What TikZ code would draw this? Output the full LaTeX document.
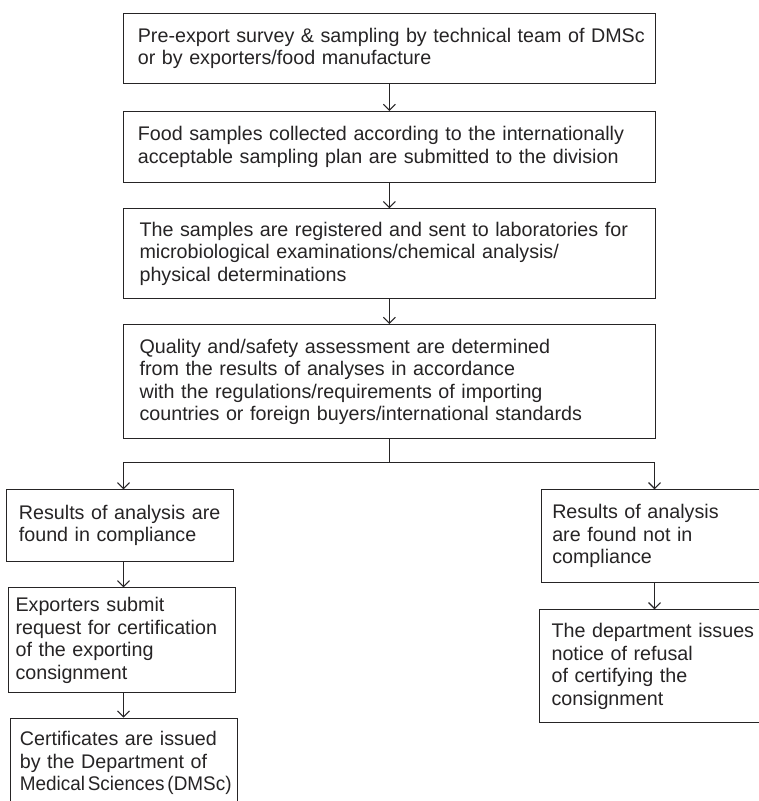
\documentclass[tikz,border=0pt]{standalone}
\usepackage{fontspec}
\setmainfont{Liberation Sans}
\usepackage{graphicx}
\usetikzlibrary{arrows.meta}
\definecolor{ink}{RGB}{38,36,37}
\newcommand{\lnx}[1]{\mbox{#1}}
\begin{document}
\begin{tikzpicture}[x=1pt,y=-1pt,line width=1.1pt,
  box/.style={draw=ink,text=ink,rectangle,anchor=north west,inner xsep=0pt,inner ysep=0pt,
    align=left,font=\fontsize{19.7}{22.5}\selectfont},
  arr/.style={draw=ink,line width=1.1pt,-{Straight Barb[length=6pt,width=12pt,line width=1.1pt]}},
  link/.style={draw=ink,line width=1.1pt}]
\useasboundingbox (0,0) rectangle (759,801);
\fill[white] (0,0) rectangle (759,801);
% main column
\node[box,minimum width=531.7pt,minimum height=70pt,text width=503.1pt] (b1) at (123,12.7)
  {\lnx{Pre-export survey \& sampling by technical team of DMSc}\\\lnx{or by exporters/food manufacture}};
\node[box,minimum width=531.7pt,minimum height=70.7pt,text width=503.1pt] (b2) at (123,111)
  {\lnx{Food samples collected according to the internationally}\\\lnx{acceptable sampling plan are submitted to the division}};
\node[box,minimum width=531.7pt,minimum height=89.4pt,text width=499.7pt] (b3) at (123,208.3)
  {\lnx{The samples are registered and sent to laboratories for}\\\lnx{microbiological examinations/chemical analysis/}\\\lnx{physical determinations}};
\node[box,minimum width=531.7pt,minimum height=114.3pt,text width=499.7pt] (b4) at (123,324)
  {\lnx{Quality and/safety assessment are determined}\\\lnx{from the results of analyses in accordance}\\\lnx{with the regulations/requirements of importing}\\\lnx{countries or foreign buyers/international standards}};
% left branch
\node[box,minimum width=226.7pt,minimum height=71.4pt,text width=202pt] (l1) at (6,489.3)
  {\lnx{Results of analysis are}\\\lnx{found in compliance}};
\node[box,minimum width=226.7pt,minimum height=105pt,text width=213.3pt] (l2) at (8.3,587.3)
  {\lnx{Exporters submit}\\\lnx{request for certification}\\\lnx{of the exporting}\\\lnx{consignment}};
\node[box,minimum width=226.7pt,minimum height=90pt,text width=208.1pt] (l3) at (10,717.7)
  {\lnx{Certificates are issued}\\\lnx{by the Department of}\\\scalebox{0.96}[1]{Medical\hspace{3pt}Sciences\hspace{3pt}(DMSc)}};
% right branch
\node[box,minimum width=227.3pt,minimum height=93pt,text width=205.3pt] (r1) at (540.7,489.3)
  {\lnx{Results of analysis}\\\lnx{are found not in}\\\lnx{compliance}};
\node[box,minimum width=228.7pt,minimum height=113pt,text width=205.3pt] (r2) at (539.3,609.3)
  {\lnx{The department issues}\\\lnx{notice of refusal}\\\lnx{of certifying the}\\\lnx{consignment}};
% connectors
\draw[arr] (b1) -- (b2);
\draw[arr] (b2) -- (b3);
\draw[arr] (b3) -- (b4);
\coordinate (jn) at (b4.south |- 0,462.5);
\coordinate (lx) at (123.5,462.5);
\coordinate (rx) at (654.5,462.5);
\draw[link] (b4.south) -- (jn);
\draw[arr] (jn) -| (l1.north -| lx);
\draw[arr] (jn) -| (r1.north -| rx);
\draw[arr] (l1.south -| lx) -- (l2.north -| lx);
\draw[arr] (l2.south -| lx) -- (l3.north -| lx);
\draw[arr] (r1.south -| rx) -- (r2.north -| rx);
\end{tikzpicture}
\end{document}
